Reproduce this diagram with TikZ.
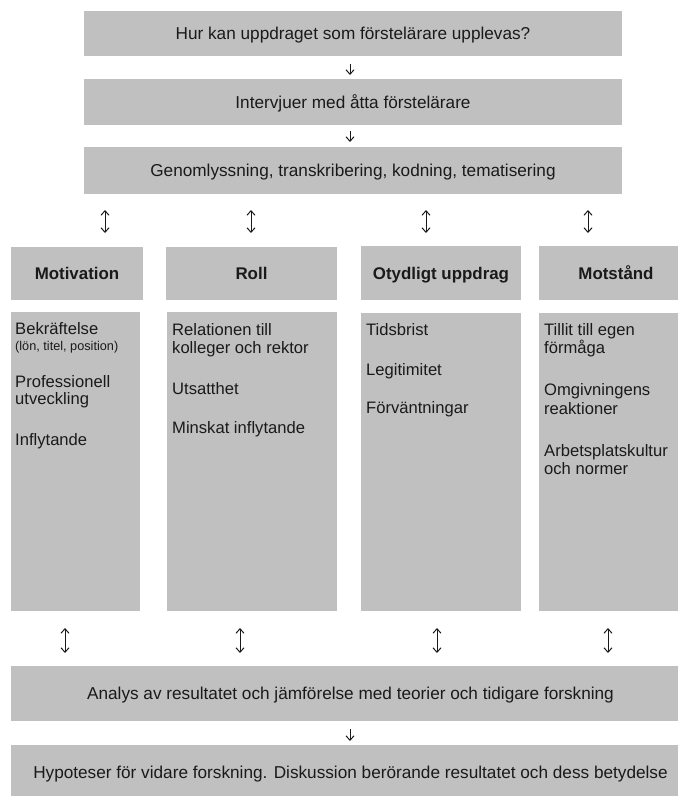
\documentclass[tikz,border=0pt]{standalone}
\usepackage{fontspec}
\setmainfont{Liberation Sans}
\usetikzlibrary{arrows.meta}
\definecolor{boxgray}{HTML}{C0C0C0}
\definecolor{ink}{HTML}{1A1A1A}
\newcommand{\topfont}{\fontsize{17.2}{19}\selectfont}
\newcommand{\headfont}{\fontsize{16.9}{18}\selectfont\bfseries}
\newcommand{\itemfont}{\fontsize{16.6}{18}\selectfont}
\newcommand{\smallitemfont}{\fontsize{12.7}{14}\selectfont}
\begin{document}
\begin{tikzpicture}[x=1pt,y=1pt,
  box/.style={fill=boxgray, draw=none, inner sep=0pt, text=ink, text height=12pt, text depth=0pt},
  item/.style={anchor=base west, inner sep=0pt, font=\itemfont, text=ink},
  tip/.tip={Straight Barb[length=4.5pt,width=8pt,line width=1pt]},
  conn/.style={draw=ink, line width=1pt, -tip},
  dbl/.style={draw=ink, line width=1pt, tip-tip}]
\useasboundingbox (0,0) rectangle (678,-796);
\clip (0,0) rectangle (678,-796);
% top chain
\node[box, minimum width=538pt, minimum height=45pt, font=\topfont] (q) at (353,-33.5) {Hur kan uppdraget som förstelärare upplevas?};
\node[box, minimum width=538pt, minimum height=46pt, font=\topfont] (iv) at (353,-102) {Intervjuer med åtta förstelärare};
\node[box, minimum width=538pt, minimum height=47pt, font=\topfont] (g) at (353,-170.5) {Genomlyssning, transkribering, kodning, tematisering};
\coordinate (a1s) at (350,-64);
\coordinate (a1e) at (350,-75);
\coordinate (a2s) at (350,-131);
\coordinate (a2e) at (350,-142);
\draw[conn] (a1s) -- (a1e);
\draw[conn] (a2s) -- (a2e);
% headers
\node[box, minimum width=132pt, minimum height=53pt, font=\headfont] (hm) at (77,-273.5) {Motivation};
\node[box, minimum width=171pt, minimum height=53pt, font=\headfont] (hr) at (251.5,-273.5) {Roll};
\node[box, minimum width=160pt, minimum height=54pt, font=\headfont] (ho) at (441,-273) {Otydligt uppdrag};
\node[box, minimum width=154pt, minimum height=54pt, font=\headfont] (hs) at (616,-273) {Motstånd};
% content boxes
\node[box, minimum width=129pt, minimum height=299pt] (cm) at (75.5,-461.5) {};
\node[box, minimum width=170pt, minimum height=299pt] (cr) at (252,-461.5) {};
\node[box, minimum width=160pt, minimum height=298pt] (co) at (441,-462) {};
\node[box, minimum width=154pt, minimum height=298pt] (cs) at (616,-462) {};
% items
\node[item] (m1) at (15,-334) {Bekräftelse};
\node[item, font=\smallitemfont] (m1b) at (15,-350) {(lön, titel, position)};
\node[item] (m2) at (15,-387) {Professionell};
\node[item] (m2b) at (15,-404) {utveckling};
\node[item] (m3) at (15,-445) {Inflytande};
\node[item] (r1) at (172,-335) {Relationen till};
\node[item] (r1b) at (172,-353) {kolleger och rektor};
\node[item] (r2) at (172,-394) {Utsatthet};
\node[item] (r3) at (172,-433) {Minskat inflytande};
\node[item] (o1) at (366,-335) {Tidsbrist};
\node[item] (o2) at (366,-375) {Legitimitet};
\node[item] (o3) at (366,-413) {Förväntningar};
\node[item] (s1) at (544,-335) {Tillit till egen};
\node[item] (s1b) at (544,-353) {förmåga};
\node[item] (s2) at (544,-395) {Omgivningens};
\node[item] (s2b) at (544,-414) {reaktioner};
\node[item] (s3) at (544,-456) {Arbetsplatskultur};
\node[item] (s3b) at (544,-474) {och normer};
% top double arrows
\foreach \n/\x in {1/105,2/251,3/426,4/588}{
  \coordinate (ut\n) at (\x,-210);
  \coordinate (ub\n) at (\x,-233);
  \draw[dbl] (ut\n) -- (ub\n);
}
% bottom double arrows
\foreach \n/\x in {1/65,2/240,3/437,4/608}{
  \coordinate (lt\n) at (\x,-628);
  \coordinate (lb\n) at (\x,-653);
  \draw[dbl] (lt\n) -- (lb\n);
}
% bottom chain
\node[box, minimum width=679pt, minimum height=55pt, font=\topfont] (an) at (350.5,-693.5) {Analys av resultatet och jämförelse med teorier och tidigare forskning};
\node[box, minimum width=679pt, minimum height=55pt, font=\topfont] (hy) at (350.5,-772.5) {Hypoteser för vidare forskning. Diskussion berörande resultatet och dess betydelse};
\coordinate (a3s) at (350,-729);
\coordinate (a3e) at (350,-741);
\draw[conn] (a3s) -- (a3e);
\end{tikzpicture}
\end{document}
